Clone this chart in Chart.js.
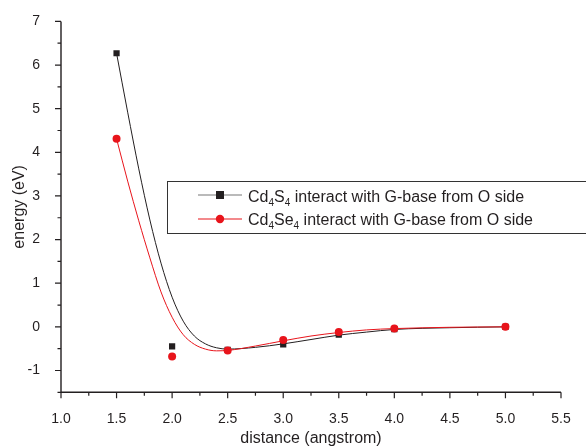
<!DOCTYPE html>
<html>
<head>
<meta charset="utf-8">
<script src="https://cdn.jsdelivr.net/npm/chart.js@4.4.1/dist/chart.umd.min.js"></script>
<style>
  html, body { margin: 0; padding: 0; background: #fff; }
  #wrap { width: 586px; height: 448px; position: relative; }
</style>
</head>
<body>
<div id="wrap"><canvas id="myChart"></canvas></div>
<script>
// measured points
const distances = [1.5, 2.0, 2.5, 3.0, 3.5, 4.0, 5.0];
const cdsEnergy = [6.27, -0.45, -0.53, -0.40, -0.18, -0.05, 0.0];
const cdseEnergy = [4.31, -0.68, -0.54, -0.30, -0.12, -0.04, 0.0];

// fitted curves
const fitX = [1.5, 1.6, 1.7, 1.8, 1.9, 2.0, 2.1, 2.2, 2.3, 2.4, 2.5, 2.75, 3.0, 3.25, 3.5, 3.75, 4.0, 4.5, 5.0];
const cdsFit = [6.27, 4.92, 3.62, 2.45, 1.46, 0.68, 0.13, -0.21, -0.39, -0.48, -0.51, -0.47, -0.39, -0.29, -0.19, -0.12, -0.06, -0.02, 0.0];
const cdseFit = [4.31, 3.34, 2.43, 1.58, 0.80, 0.22, -0.18, -0.40, -0.51, -0.55, -0.54, -0.44, -0.32, -0.21, -0.13, -0.07, -0.04, -0.01, 0.0];

const xTicks = [1.0, 1.5, 2.0, 2.5, 3.0, 3.5, 4.0, 4.5, 5.0, 5.5];
const yTicks = [-1, 0, 1, 2, 3, 4, 5, 6, 7];

const legendNames = [
  [['Cd', 0], ['4', 1], ['S', 0], ['4', 1], [' interact with G-base from O side', 0]],
  [['Cd', 0], ['4', 1], ['Se', 0], ['4', 1], [' interact with G-base from O side', 0]]
];

const FONT = '"Liberation Sans", Arial, sans-serif';
const ink = '#231f20';

function pts(xs, ys) {
  return xs.map((x, i) => ({ x: x, y: ys[i] }));
}

// axes lines, minor/major ticks, legend box
const axesPlugin = {
  id: 'axesPlugin',
  afterDraw(chart) {
    const ctx = chart.ctx;
    const xs = chart.scales.x, ys = chart.scales.y;
    const a = chart.chartArea;
    ctx.save();
    ctx.strokeStyle = ink;
    ctx.lineWidth = 1.4;
    ctx.beginPath();
    ctx.moveTo(a.left, ys.getPixelForValue(7));
    ctx.lineTo(a.left, a.bottom);
    ctx.lineTo(xs.getPixelForValue(5.5), a.bottom);
    ctx.stroke();

    ctx.lineWidth = 1.2;
    ctx.beginPath();
    for (let v = 1.0; v <= 5.5001; v += 0.25) {
      const px = xs.getPixelForValue(v);
      const major = Math.abs(v * 2 - Math.round(v * 2)) < 0.01;
      ctx.moveTo(px, a.bottom);
      ctx.lineTo(px, a.bottom + (major ? 6 : 3.5));
    }
    for (let v = -1.5; v <= 7.0001; v += 0.5) {
      const py = ys.getPixelForValue(v);
      const major = Math.abs(v - Math.round(v)) < 0.01;
      ctx.moveTo(a.left, py);
      ctx.lineTo(a.left - (major ? 6 : 3.5), py);
    }
    ctx.stroke();

    // legend
    ctx.strokeStyle = '#333';
    ctx.lineWidth = 1;
    ctx.strokeRect(167.5, 181.5, 440, 52);

    const rows = [
      { y: 195, base: 202, line: '#777', draw: (cx, cy) => { ctx.fillStyle = ink; ctx.fillRect(cx - 4, cy - 4, 8, 8); } },
      { y: 219, base: 225, line: '#e8141b', draw: (cx, cy) => { ctx.fillStyle = '#e8141b'; ctx.beginPath(); ctx.arc(cx, cy, 4.2, 0, Math.PI * 2); ctx.fill(); } }
    ];
    rows.forEach((r, i) => {
      ctx.strokeStyle = r.line;
      ctx.lineWidth = 1.2;
      ctx.beginPath();
      ctx.moveTo(198, r.y);
      ctx.lineTo(242, r.y);
      ctx.stroke();
      r.draw(220, r.y);
      let tx = 248;
      ctx.fillStyle = ink;
      ctx.textBaseline = 'alphabetic';
      ctx.textAlign = 'left';
      legendNames[i].forEach(([t, sub]) => {
        ctx.font = (sub ? '10px ' : '16px ') + FONT;
        ctx.fillText(t, tx, r.base + (sub ? 4 : 0));
        tx += ctx.measureText(t).width;
      });
    });
    ctx.restore();
  }
};

const ctx = document.getElementById('myChart');
new Chart(ctx, {
  type: 'scatter',
  data: {
    datasets: [
      {
        label: 'cds fit', data: pts(fitX, cdsFit), showLine: true,
        borderColor: ink, borderWidth: 1, pointRadius: 0,
        cubicInterpolationMode: 'monotone', order: 4
      },
      {
        label: 'cdse fit', data: pts(fitX, cdseFit), showLine: true,
        borderColor: '#e8141b', borderWidth: 1, pointRadius: 0,
        cubicInterpolationMode: 'monotone', order: 3
      },
      {
        label: 'Cd4S4', data: pts(distances, cdsEnergy),
        pointStyle: 'rect', pointRadius: 4.4, backgroundColor: ink,
        borderColor: ink, borderWidth: 0, order: 2
      },
      {
        label: 'Cd4Se4', data: pts(distances, cdseEnergy),
        pointStyle: 'circle', pointRadius: 4, backgroundColor: '#e8141b',
        borderColor: '#e8141b', borderWidth: 0, order: 1
      }
    ]
  },
  options: {
    responsive: true,
    maintainAspectRatio: false,
    animation: false,
    layout: { autoPadding: false, padding: { left: 0, right: 25, top: 18.7, bottom: 0 } },
    plugins: { legend: { display: false }, tooltip: { enabled: false } },
    scales: {
      x: {
        type: 'linear', min: 1.0, max: 5.5,
        afterFit: (s) => { s.height = 55.7; },
        afterBuildTicks: (s) => { s.ticks = xTicks.map(v => ({ value: v })); },
        grid: { display: false }, border: { display: false },
        ticks: {
          padding: 10, color: ink, font: { family: FONT, size: 14 },
          callback: (v) => v.toFixed(1)
        },
        title: {
          display: true, text: 'distance (angstrom)', color: ink,
          font: { family: FONT, size: 16 }, padding: { top: 8, bottom: 0 }
        }
      },
      y: {
        type: 'linear', min: -1.5, max: 7,
        afterFit: (s) => { s.width = 61; },
        afterBuildTicks: (s) => { s.ticks = yTicks.map(v => ({ value: v })); },
        grid: { display: false }, border: { display: false },
        ticks: {
          padding: 13, color: ink, font: { family: FONT, size: 14 },
          callback: (v) => String(v)
        },
        title: {
          display: true, text: 'energy (eV)', color: ink,
          font: { family: FONT, size: 16 }, padding: { top: 10, bottom: 4 }
        }
      }
    }
  },
  plugins: [axesPlugin]
});
</script>
</body>
</html>
